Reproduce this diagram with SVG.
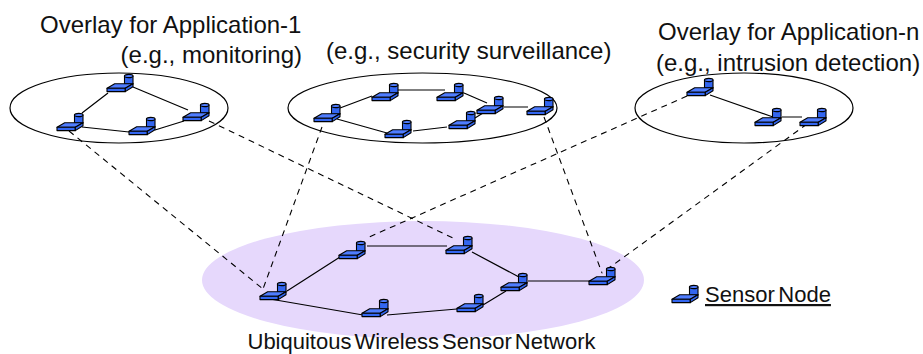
<svg xmlns="http://www.w3.org/2000/svg" width="923" height="354" viewBox="0 0 923 354">
<style>
text{font-family:"Liberation Sans",Arial,sans-serif;fill:#111}
.t{font-size:24px}
.b{font-size:22px}
.o{fill:none;stroke:#000;stroke-width:1.2}
.s{stroke:#000;stroke-width:1.2;fill:none}
.d{stroke:#000;stroke-width:1.1;fill:none;stroke-dasharray:6 5}
.f{fill:#3366f0;stroke:#000;stroke-width:1.1;stroke-linejoin:round}
.l{fill:#4f7dff;stroke:#000;stroke-width:1.1;stroke-linejoin:round}
</style>
<defs>
<g id="sensor">
<path class="f" d="M17.5 2V10H26V2Z"/>
<ellipse class="l" cx="21.7" cy="2" rx="4.3" ry="1.6"/>
<path class="l" d="M0 14.3L7.7 9.7H26L18.3 14.3Z"/>
<path class="f" d="M0 14.3H18.3V17.6H0Z"/>
<path class="f" d="M18.3 14.3L26 9.7V12.7L18.3 17.6Z"/>
</g>
</defs>
<ellipse id="network-area" cx="423" cy="280" rx="221" ry="59" fill="#e6d8fc"/>
<g id="overlay-1"><ellipse class="o" cx="119" cy="108" rx="109" ry="35"/></g>
<g id="overlay-2"><ellipse class="o" cx="422.5" cy="108" rx="134.5" ry="35"/></g>
<g id="overlay-n"><ellipse class="o" cx="744" cy="108" rx="109" ry="35"/></g>
<g id="connectors">
<path class="s" d="M108 93L82 113M133 87L188 110M82 127L129 132M155 130L184 121"/>
<path class="s" d="M340 108L372 96M398 90H445M464 93L487 103M504 107H528M483 113L475 118M447 127L413 131M337 119L387 133"/>
<path class="s" d="M710 95L773 117M782 117H802"/>
<path class="s" d="M287 291L340 257M367 246H447M472 252L519 277M270 299L363 315M387 315L457 309M483 305L506 291M528 281H590"/>
<path class="d" d="M69 131L263 289M209 121L453 238M322 127L263 289M544 117L602 273M687 96L367 238M807 124L602 273"/>
</g>
<g id="n1-1"><use href="#sensor" x="107" y="74"/></g>
<g id="n1-2"><use href="#sensor" x="57" y="113"/></g>
<g id="n1-3"><use href="#sensor" x="129" y="117"/></g>
<g id="n1-4"><use href="#sensor" x="183" y="103"/></g>
<g id="n2-1"><use href="#sensor" x="314" y="104"/></g>
<g id="n2-2"><use href="#sensor" x="372" y="83"/></g>
<g id="n2-3"><use href="#sensor" x="437" y="83"/></g>
<g id="n2-4"><use href="#sensor" x="477" y="96"/></g>
<g id="n2-5"><use href="#sensor" x="527" y="97"/></g>
<g id="n2-6"><use href="#sensor" x="449" y="111"/></g>
<g id="n2-7"><use href="#sensor" x="385" y="120"/></g>
<g id="n3-1"><use href="#sensor" x="687" y="78"/></g>
<g id="n3-2"><use href="#sensor" x="755" y="108"/></g>
<g id="n3-3"><use href="#sensor" x="800" y="108"/></g>
<g id="b-1"><use href="#sensor" x="260" y="282"/></g>
<g id="b-2"><use href="#sensor" x="339" y="241"/></g>
<g id="b-3"><use href="#sensor" x="446" y="236"/></g>
<g id="b-4"><use href="#sensor" x="362" y="299"/></g>
<g id="b-5"><use href="#sensor" x="457" y="294"/></g>
<g id="b-6"><use href="#sensor" x="501" y="273"/></g>
<g id="b-7"><use href="#sensor" x="589" y="267"/></g>
<g id="legend"><use href="#sensor" x="672" y="285"/>
<text class="b" x="705" y="302" text-decoration="underline" word-spacing="-2.5">Sensor Node</text></g>
<g id="labels">
<text class="t" x="40" y="33">Overlay for Application-1</text>
<text class="t" x="302" y="63" text-anchor="end">(e.g., monitoring)</text>
<text class="t" x="326" y="59">(e.g., security surveillance)</text>
<text class="t" x="658" y="40">Overlay for Application-n</text>
<text class="t" x="656" y="71">(e.g., intrusion detection)</text>
<text class="b" x="247.5" y="349" word-spacing="-3">Ubiquitous Wireless Sensor Network</text>
</g>
</svg>
